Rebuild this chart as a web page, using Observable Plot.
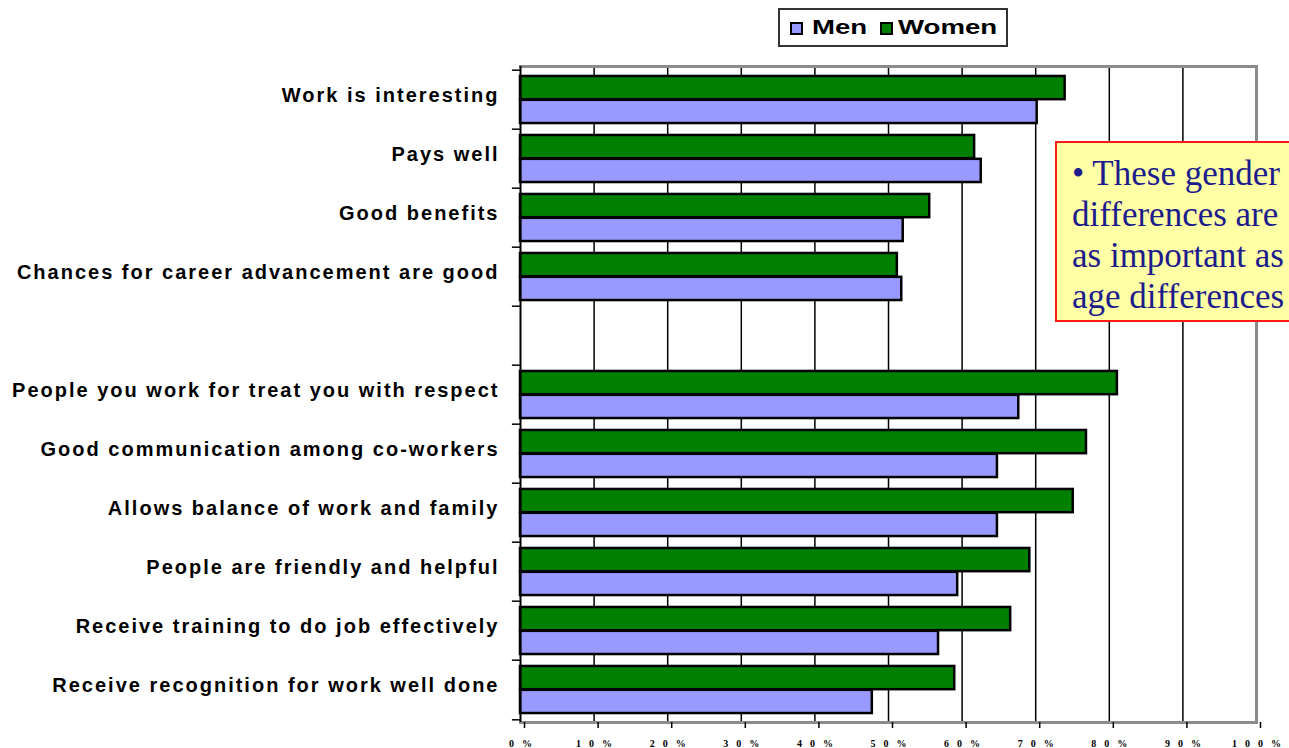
<!DOCTYPE html>
<html>
<head>
<meta charset="utf-8">
<script src="https://cdn.jsdelivr.net/npm/d3@7"></script>
<script src="https://cdn.jsdelivr.net/npm/@observablehq/plot@0.6"></script>
<style>
  body { margin: 0; background: #fff; }
  #wrap { position: relative; width: 1289px; height: 748px; overflow: hidden; background: #fff; }
  #chart { position: absolute; left: 0; top: 0; }
  #legend {
    position: absolute; left: 778px; top: 8px; width: 230px; height: 39px;
    border: 2px solid #333; background: #fff; box-sizing: border-box;
    font-family: "Liberation Sans", Arial, sans-serif; font-weight: bold; font-size: 20px;
  }
  #legend .sw { position: absolute; top: 12px; width: 9px; height: 9px; border: 2px solid #000; }
  #legend .lbl { position: absolute; top: 5px; transform: scaleX(1.38); transform-origin: 0 50%; line-height: 24px; }
  #note {
    position: absolute; left: 1055px; top: 141px; width: 260px; height: 181px;
    border: 2px solid #ff1a1a; background: #ffffa6; color: #1c1c8c;
    font-family: "Liberation Serif", "Times New Roman", serif; font-size: 35px; line-height: 41px;
    padding: 10px 0 0 15px; box-sizing: border-box; white-space: pre;
  }
  svg [aria-label="y-axis tick label"] text { letter-spacing: 2px; }
  svg [aria-label="x-axis tick label"] text { letter-spacing: 8px; }
</style>
</head>
<body>
<div id="wrap">
  <div id="chart"></div>
  <div id="legend"></div>
  <div id="note"></div>
</div>
<script>
const categories = [
  "Work is interesting",
  "Pays well",
  "Good benefits",
  "Chances for career advancement are good",
  " ",
  "People you work for treat you with respect",
  "Good communication among co-workers",
  "Allows balance of work and family",
  "People are friendly and helpful",
  "Receive training to do job effectively",
  "Receive recognition for work well done"
];
const seriesNames = ["Men", "Women"];
const seriesColors = ["#9999ff", "#008000"];
const menValues   = [0.702, 0.626, 0.520, 0.518, null, 0.677, 0.648, 0.648, 0.594, 0.568, 0.478];
const womenValues = [0.740, 0.617, 0.556, 0.512, null, 0.811, 0.769, 0.751, 0.692, 0.666, 0.590];
const xTicks = [0, 0.1, 0.2, 0.3, 0.4, 0.5, 0.6, 0.7, 0.8, 0.9, 1];
const gridTicks = [0.1, 0.2, 0.3, 0.4, 0.5, 0.6, 0.7, 0.8, 0.9];
const noteLines = ["• These gender", "differences are", "as important as", "age differences"];

const menData = categories.map((c, i) => ({category: c, series: "Men", value: menValues[i]})).filter(d => d.value != null);
const womenData = categories.map((c, i) => ({category: c, series: "Women", value: womenValues[i]})).filter(d => d.value != null);

const W = 1289, H = 748, MT = 66, MB = 26, ML = 520, MR = 33;
const bw = (H - MT - MB) / categories.length;

const chart = Plot.plot({
  width: W, height: H,
  marginLeft: ML, marginRight: MR, marginTop: MT, marginBottom: MB,
  x: {domain: [0, 1]},
  y: {domain: categories, padding: 0},
  color: {domain: seriesNames, range: seriesColors},
  style: {fontFamily: "'Liberation Sans', Arial, sans-serif", background: "white", color: "black", overflow: "visible"},
  marks: [
    Plot.ruleX(gridTicks, {stroke: "black", strokeWidth: 1.5}),
    Plot.frame({anchor: "top", stroke: "#8c8c8c", strokeWidth: 3}),
    Plot.frame({anchor: "right", stroke: "#8c8c8c", strokeWidth: 3}),
    Plot.frame({anchor: "bottom", stroke: "#8c8c8c", strokeWidth: 3}),
    Plot.barX(womenData, {y: "category", x: "value", fill: "series", stroke: "black", strokeWidth: 2.5,
      insetTop: bw * 0.1, insetBottom: bw * 0.5}),
    Plot.barX(menData, {y: "category", x: "value", fill: "series", stroke: "black", strokeWidth: 2.5,
      insetTop: bw * 0.5, insetBottom: bw * 0.1}),
    Plot.ruleX([0], {stroke: "black", strokeWidth: 2}),
    Plot.ruleY(categories, {y: d => d, x1: -0.011, x2: 0, dy: -bw / 2, stroke: "black", strokeWidth: 1.5}),
    Plot.ruleY(categories.slice(-1), {y: d => d, x1: -0.011, x2: 0, dy: bw / 2, stroke: "black", strokeWidth: 1.5}),
    Plot.axisY({tickSize: 0, tickPadding: 21, dy: -4, fontSize: 20, fontWeight: "bold", label: null}),
    Plot.axisX({ticks: xTicks, tickFormat: d => Math.round(d * 100) + "%", tickSize: 6, tickPadding: 11, dx: 4,
      fontSize: 10, fontWeight: "bold", fontFamily: "'Liberation Serif', serif", label: null, strokeWidth: 1.5})
  ]
});
document.getElementById("chart").appendChild(chart);

const legend = d3.select("#legend");
const swLeft = [10, 100], lblLeft = [32, 118];
seriesNames.forEach((s, i) => {
  legend.append("div").attr("class", "sw").style("left", swLeft[i] + "px").style("background", seriesColors[i]);
  legend.append("span").attr("class", "lbl").style("left", lblLeft[i] + "px").text(s);
});
d3.select("#note").text(noteLines.join("\n"));
</script>
</body>
</html>
